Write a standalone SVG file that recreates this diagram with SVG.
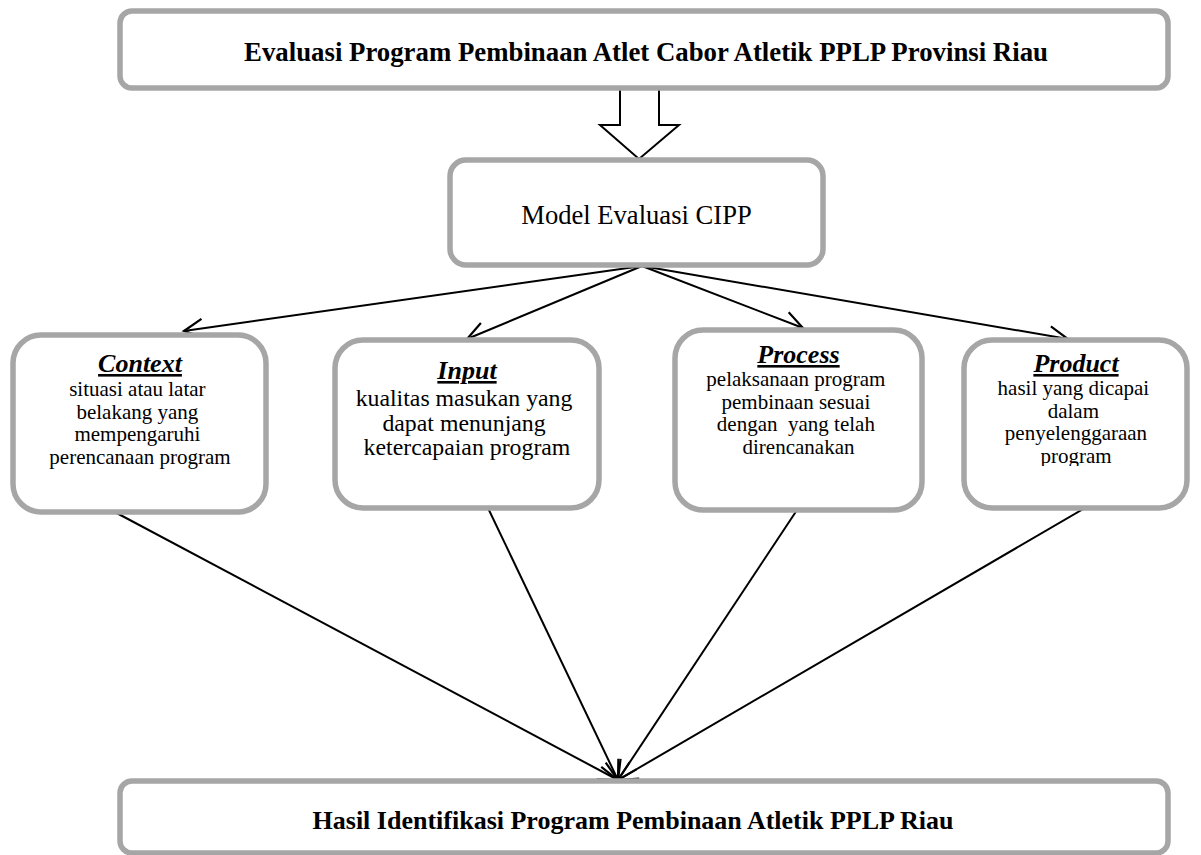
<svg xmlns="http://www.w3.org/2000/svg" width="1201" height="855" viewBox="0 0 1201 855">
<style>
.box{fill:#fff;stroke:#a6a6a6;stroke-width:5.5}
.t{font-family:"Liberation Serif","Times New Roman",serif;fill:#000;text-anchor:middle}
.b{font-weight:bold}
.h{font-weight:bold;font-style:italic;text-decoration:underline;font-size:26px}
.con{stroke:#000;stroke-width:2;fill:none}
</style>
<defs>
<marker id="arr" viewBox="-24 -14 28 28" refX="0" refY="0" markerWidth="28" markerHeight="28" markerUnits="userSpaceOnUse" orient="auto" overflow="visible">
<path d="M-19,-9.5 L0,0 L-19,9.5" fill="none" stroke="#000" stroke-width="2.2"/>
</marker>
<clipPath id="clipProd"><rect x="960" y="330" width="240" height="136"/></clipPath>
</defs>

<g id="connectors">
<polygon points="620,89 659,89 659,125 679,125 639,159 600,125 620,125" fill="#fff" stroke="#000" stroke-width="2"/>
<line class="con" x1="642" y1="266" x2="184" y2="331" marker-end="url(#arr)"/>
<line class="con" x1="642" y1="266" x2="467" y2="339" marker-end="url(#arr)"/>
<line class="con" x1="642" y1="266" x2="803" y2="328" marker-end="url(#arr)"/>
<line class="con" x1="642" y1="266" x2="1068" y2="339" marker-end="url(#arr)"/>
<line class="con" x1="111" y1="510" x2="618" y2="780" marker-end="url(#arr)"/>
<line class="con" x1="488" y1="508" x2="618" y2="780" marker-end="url(#arr)"/>
<line class="con" x1="797" y1="510" x2="618" y2="780" marker-end="url(#arr)"/>
<line class="con" x1="1085" y1="508" x2="618" y2="780" marker-end="url(#arr)"/>
</g>

<g id="title">
<rect class="box" x="120" y="11" width="1048" height="77" rx="12"/>
<text class="t b" x="646" y="61" font-size="26.8">Evaluasi Program Pembinaan Atlet Cabor Atletik PPLP Provinsi Riau</text>
</g>

<g id="cipp">
<rect class="box" x="450" y="160" width="373" height="105" rx="16"/>
<text class="t" x="636.5" y="224" font-size="26.6">Model Evaluasi CIPP</text>
</g>

<g id="context">
<rect class="box" x="13" y="335" width="253" height="177" rx="28"/>
<text class="t h" x="140" y="372">Context</text>
<text class="t" font-size="21">
<tspan x="140" y="396">situasi atau latar</tspan>
<tspan x="140" y="418.5">belakang yang</tspan>
<tspan x="140" y="441">mempengaruhi</tspan>
<tspan x="140" y="463.5">perencanaan program</tspan>
</text>
</g>

<g id="input">
<rect class="box" x="335" y="340" width="264" height="168" rx="28"/>
<text class="t h" x="467" y="379">Input</text>
<text class="t" font-size="23.8">
<tspan x="467" y="406">kualitas masukan yang</tspan>
<tspan x="467" y="430.5">dapat menunjang</tspan>
<tspan x="467" y="455">ketercapaian program</tspan>
</text>
</g>

<g id="process">
<rect class="box" x="675" y="330" width="247" height="180" rx="28"/>
<text class="t h" x="798.5" y="363">Process</text>
<text class="t" font-size="21">
<tspan x="798.5" y="386">pelaksanaan program</tspan>
<tspan x="798.5" y="408.5">pembinaan sesuai</tspan>
<tspan x="798.5" y="431" xml:space="preserve">dengan  yang telah</tspan>
<tspan x="798.5" y="453.5">direncanakan</tspan>
</text>
</g>

<g id="product">
<rect class="box" x="964" y="340" width="223" height="168" rx="28"/>
<text class="t h" x="1076" y="372">Product</text>
<text class="t" font-size="21">
<tspan x="1076" y="395">hasil yang dicapai</tspan>
<tspan x="1076" y="417.5">dalam</tspan>
<tspan x="1076" y="440">penyelenggaraan</tspan>
</text>
<text class="t" font-size="21" clip-path="url(#clipProd)" x="1076" y="462.5">program</text>
</g>

<g id="result">
<rect class="box" x="120" y="781" width="1048" height="72" rx="12"/>
<text class="t b" x="633" y="829" font-size="26">Hasil Identifikasi Program Pembinaan Atletik PPLP Riau</text>
</g>
</svg>
